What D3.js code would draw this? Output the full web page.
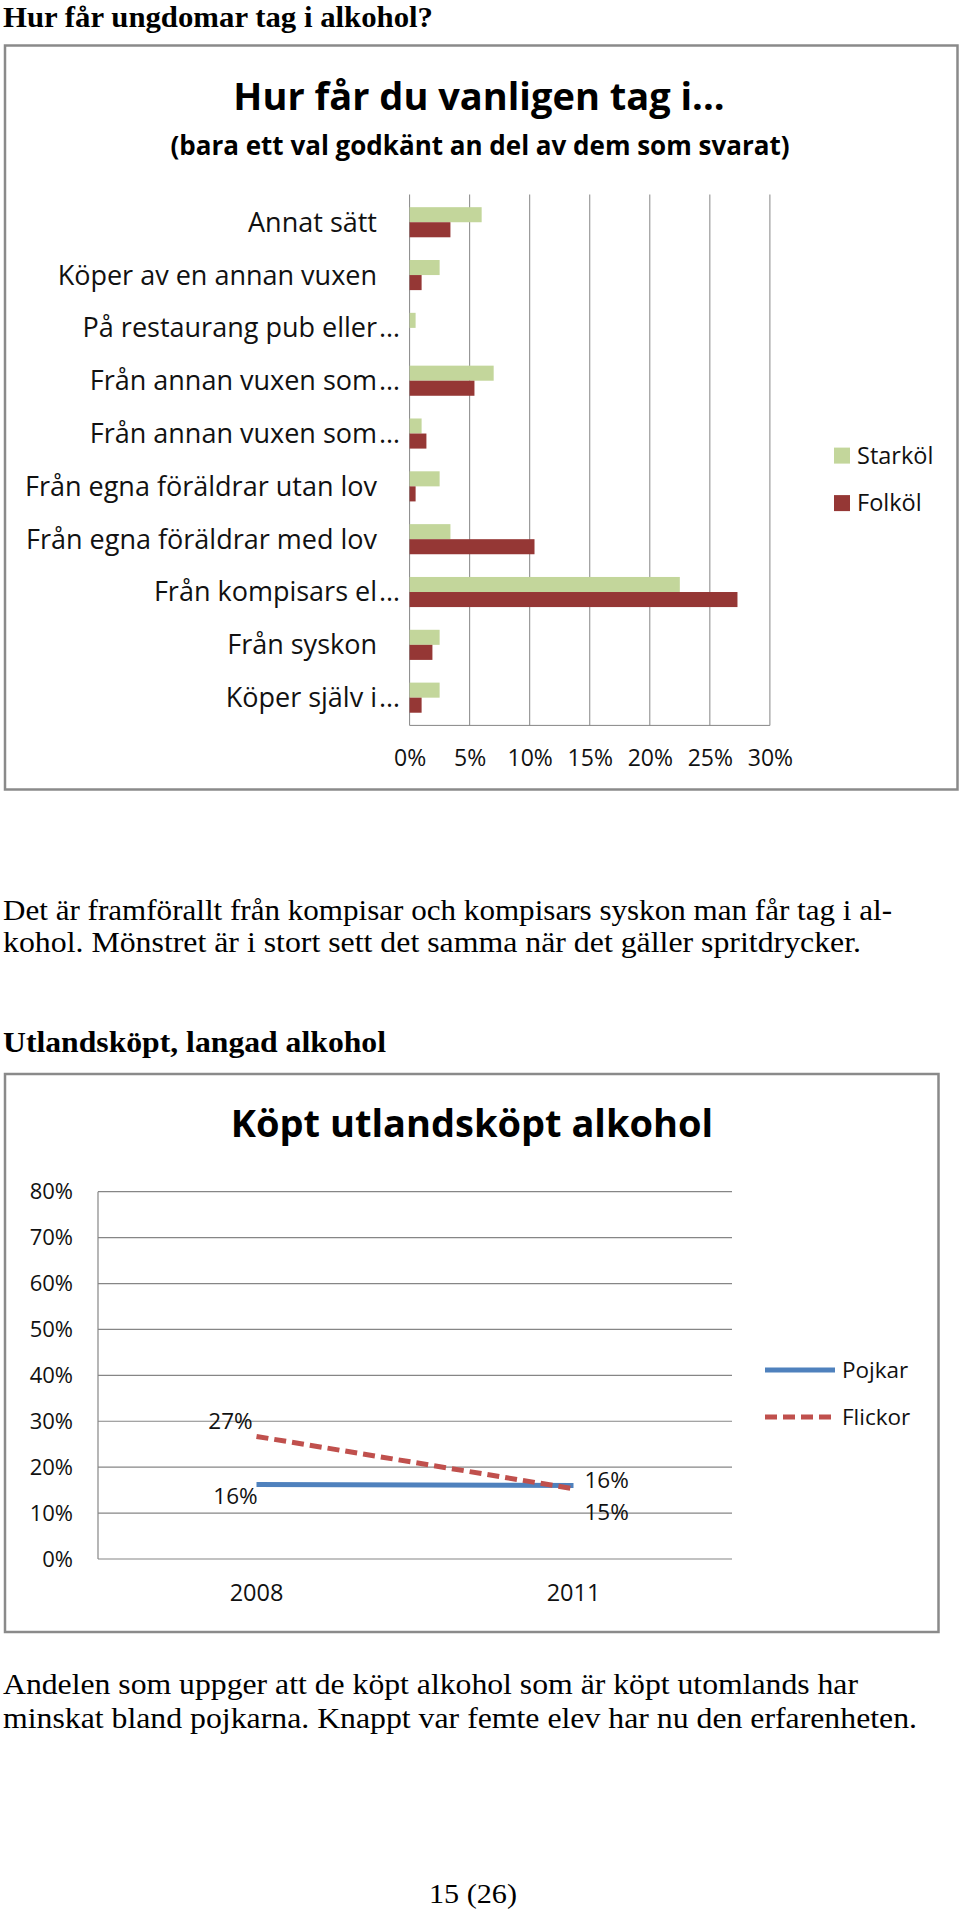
<!DOCTYPE html>
<html><head><meta charset="utf-8">
<script src="https://cdn.jsdelivr.net/npm/d3@7"></script>
<style>
html,body{margin:0;padding:0;background:#fff;}
svg{display:block;}
</style></head>
<body>
<script>
// ---------- Data: chart 1 ----------
const sources = ["Annat sätt","Köper av en annan vuxen","På restaurang pub eller…","Från annan vuxen som…","Från annan vuxen som…","Från egna föräldrar utan lov","Från egna föräldrar med lov","Från kompisars el…","Från syskon","Köper själv i…"];
const seriesNames1 = ["Starköl","Folköl"];
const starkol = [0.060,0.025,0.005,0.070,0.010,0.025,0.034,0.225,0.025,0.025];
const folkol  = [0.034,0.010,0.000,0.054,0.014,0.005,0.104,0.273,0.019,0.010];
const xTicks1 = [0,0.05,0.10,0.15,0.20,0.25,0.30];

// ---------- Data: chart 2 ----------
const years = ["2008","2011"];
const seriesNames2 = ["Pojkar","Flickor"];
const pojkar  = [0.162,0.160];
const flickor = [0.267,0.153];
const yTicks2 = [0,0.1,0.2,0.3,0.4,0.5,0.6,0.7,0.8];

// ---------- Text ----------
const heading1 = "Hur får ungdomar tag i alkohol?";
const title1 = "Hur får du vanligen tag i...";
const subtitle1 = "(bara ett val godkänt an del av dem som svarat)";
const para1 = ["Det är framförallt från kompisar och kompisars syskon man får tag i al-","kohol. Mönstret är i stort sett det samma när det gäller spritdrycker."];
const heading2 = "Utlandsköpt, langad alkohol";
const title2 = "Köpt utlandsköpt alkohol";
const para2 = ["Andelen som uppger att de köpt alkohol som är köpt utomlands har","minskat bland pojkarna. Knappt var femte elev har nu den erfarenheten."];
const pageNo = "15 (26)";

const W = 960, H = 1910;
const svg = d3.select("body").append("svg").attr("width",W).attr("height",H);
svg.append("rect").attr("width",W).attr("height",H).attr("fill","#fff");

const serif = "'Liberation Serif','Times New Roman',serif";
const sans = "'Open Sans','Noto Sans',sans-serif";
const GRID = "#868686";

function pageText(str, x, y, size, bold, len, anchor){
  const t = svg.append("text").attr("x",x).attr("y",y)
    .attr("font-family",serif).attr("font-size",size)
    .attr("font-weight",bold?"bold":"normal").attr("fill","#000")
    .text(str);
  if(anchor) t.attr("text-anchor",anchor);
  if(len) t.attr("textLength",len).attr("lengthAdjust","spacingAndGlyphs");
  return t;
}

// Page text
pageText(heading1, 3, 27, 30, true, 430);
pageText(para1[0], 3, 919.5, 29, false, 889);
pageText(para1[1], 3, 952, 29, false, 858);
pageText(heading2, 3, 1052, 29, true, 383);
pageText(para2[0], 3, 1693.5, 29, false, 855);
pageText(para2[1], 3, 1727.5, 29, false, 914);
pageText(pageNo, 473, 1903, 27, false, 88, "middle");

// ================= Chart 1 =================
const c1 = svg.append("g");
c1.append("rect").attr("x",5).attr("y",45.5).attr("width",952.5).attr("height",744)
  .attr("fill","#fff").attr("stroke","#8a8a8a").attr("stroke-width",2.5);

c1.append("text").attr("x",479).attr("y",110).attr("text-anchor","middle")
  .attr("font-family",sans).attr("font-weight","bold").attr("font-size",38).attr("fill","#000").text(title1);
c1.append("text").attr("x",480).attr("y",155).attr("text-anchor","middle")
  .attr("font-family",sans).attr("font-weight","bold").attr("font-size",26).attr("fill","#000").text(subtitle1);

const x1 = d3.scaleLinear().domain([0,0.30]).range([409.6,769.9]);
const y1 = d3.scaleBand().domain(d3.range(sources.length)).range([194.5,725.4])
  .paddingInner(0.43).paddingOuter(0.24);
const ySub = d3.scaleBand().domain(seriesNames1).range([0,y1.bandwidth()]);
const colors1 = {"Starköl":"#c3d69b","Folköl":"#953735"};

// gridlines
c1.append("g").selectAll("line").data(xTicks1).join("line")
  .attr("x1",d=>x1(d)).attr("x2",d=>x1(d)).attr("y1",194.5).attr("y2",725.4)
  .attr("stroke",GRID).attr("stroke-width",1);
c1.append("line").attr("x1",x1(0)).attr("x2",x1(0.30)).attr("y1",725.4).attr("y2",725.4)
  .attr("stroke",GRID).attr("stroke-width",1);

// x axis labels
const ax1 = d3.axisBottom(x1).tickValues(xTicks1).tickFormat(d3.format(".0%")).tickSize(0).tickPadding(0);
const gAx1 = c1.append("g").attr("transform","translate(0,758)").call(ax1);
gAx1.select(".domain").remove();
gAx1.selectAll("text").attr("font-family",sans).attr("font-size",23).attr("fill","#111").attr("dy","0.35em").attr("y",0);

// bars
const rows = sources.map((s,i)=>({i, vals:[{k:"Starköl",v:starkol[i]},{k:"Folköl",v:folkol[i]}]}));
const gRow = c1.append("g").selectAll("g").data(rows).join("g")
  .attr("transform",d=>`translate(0,${y1(d.i)})`);
gRow.selectAll("rect").data(d=>d.vals).join("rect")
  .attr("x",x1(0)).attr("y",d=>ySub(d.k))
  .attr("width",d=>x1(d.v)-x1(0)).attr("height",ySub.bandwidth())
  .attr("fill",d=>colors1[d.k]);

// category labels
const labG = c1.append("g").attr("font-family",sans).attr("font-size",27).attr("fill","#111");
sources.forEach((s,i)=>{
  const cy = y1(i)+y1.bandwidth()/2;
  const trunc = s.endsWith("…");
  const main = trunc ? s.slice(0,-1) : s;
  labG.append("text").attr("x",377).attr("y",cy).attr("dy","0.35em").attr("text-anchor","end").text(main);
  if(trunc) labG.append("text").attr("x",379).attr("y",cy).attr("dy","0.35em").text("…");
});

// legend 1
const lg1 = c1.append("g");
seriesNames1.forEach((n,i)=>{
  const ly = 455.6 + i*47.5;
  lg1.append("rect").attr("x",834).attr("y",ly-8).attr("width",16).attr("height",16).attr("fill",colors1[n]);
  lg1.append("text").attr("x",857).attr("y",ly).attr("dy","0.35em")
    .attr("font-family",sans).attr("font-size",23.5).attr("fill","#111").text(n);
});

// ================= Chart 2 =================
const c2 = svg.append("g");
c2.append("rect").attr("x",5).attr("y",1074).attr("width",933.5).attr("height",558)
  .attr("fill","#fff").attr("stroke","#8a8a8a").attr("stroke-width",2.5);
c2.append("text").attr("x",472).attr("y",1136.5).attr("text-anchor","middle")
  .attr("font-family",sans).attr("font-weight","bold").attr("font-size",38).attr("fill","#000").text(title2);

const x2 = d3.scaleBand().domain(years).range([98,732]);
const y2 = d3.scaleLinear().domain([0,0.8]).range([1559,1191.7]);

c2.append("g").selectAll("line").data(yTicks2).join("line")
  .attr("x1",98).attr("x2",732).attr("y1",d=>y2(d)).attr("y2",d=>y2(d))
  .attr("stroke",GRID).attr("stroke-width",1.2);
c2.append("line").attr("x1",98).attr("x2",98).attr("y1",y2(0.8)).attr("y2",y2(0))
  .attr("stroke",GRID).attr("stroke-width",1.2);

const ay2 = d3.axisLeft(y2).tickValues(yTicks2).tickFormat(d3.format(".0%")).tickSize(0).tickPadding(0);
const gAy2 = c2.append("g").attr("transform","translate(73,0)").call(ay2);
gAy2.select(".domain").remove();
gAy2.selectAll("text").attr("font-family",sans).attr("font-size",22).attr("fill","#111").attr("x",0);

const ax2 = d3.axisBottom(x2).tickSize(0).tickPadding(0);
const gAx2 = c2.append("g").attr("transform","translate(0,1593)").call(ax2);
gAx2.select(".domain").remove();
gAx2.selectAll("text").attr("font-family",sans).attr("font-size",23.5).attr("fill","#111").attr("y",0).attr("dy","0.35em");

const cx = d=>x2(d)+x2.bandwidth()/2;
const line2 = d3.line().x(d=>cx(d.year)).y(d=>y2(d.v));
const dP = years.map((yr,i)=>({year:yr,v:pojkar[i]}));
const dF = years.map((yr,i)=>({year:yr,v:flickor[i]}));
c2.append("path").datum(dP).attr("d",line2).attr("fill","none")
  .attr("stroke","#4f81bd").attr("stroke-width",5);
c2.append("path").datum(dF).attr("d",line2).attr("fill","none")
  .attr("stroke","#c0504d").attr("stroke-width",5).attr("stroke-dasharray","12,6");

// data labels
const fmt = d3.format(".0%");
const dl = c2.append("g").attr("font-family",sans).attr("font-size",22.5).attr("fill","#111");
dl.append("text").attr("x",cx("2008")-26).attr("y",y2(flickor[0])-7).attr("text-anchor","middle").text(fmt(flickor[0]));
dl.append("text").attr("x",cx("2008")-21).attr("y",y2(pojkar[0])+19).attr("text-anchor","middle").text(fmt(pojkar[0]));
dl.append("text").attr("x",cx("2011")+11).attr("y",y2(pojkar[1])+2).text(fmt(pojkar[1]));
dl.append("text").attr("x",cx("2011")+11).attr("y",y2(flickor[1])+31).text(fmt(flickor[1]));

// legend 2
const lg2 = c2.append("g");
const lgItems = [{n:"Pojkar",c:"#4f81bd",dash:null,y:1370},{n:"Flickor",c:"#c0504d",dash:"12,6",y:1417}];
lgItems.forEach(it=>{
  const l = lg2.append("line").attr("x1",765).attr("x2",835).attr("y1",it.y).attr("y2",it.y)
    .attr("stroke",it.c).attr("stroke-width",5);
  if(it.dash) l.attr("stroke-dasharray",it.dash);
  lg2.append("text").attr("x",842).attr("y",it.y).attr("dy","0.35em")
    .attr("font-family",sans).attr("font-size",22.5).attr("fill","#111").text(it.n);
});
</script>
</body></html>
